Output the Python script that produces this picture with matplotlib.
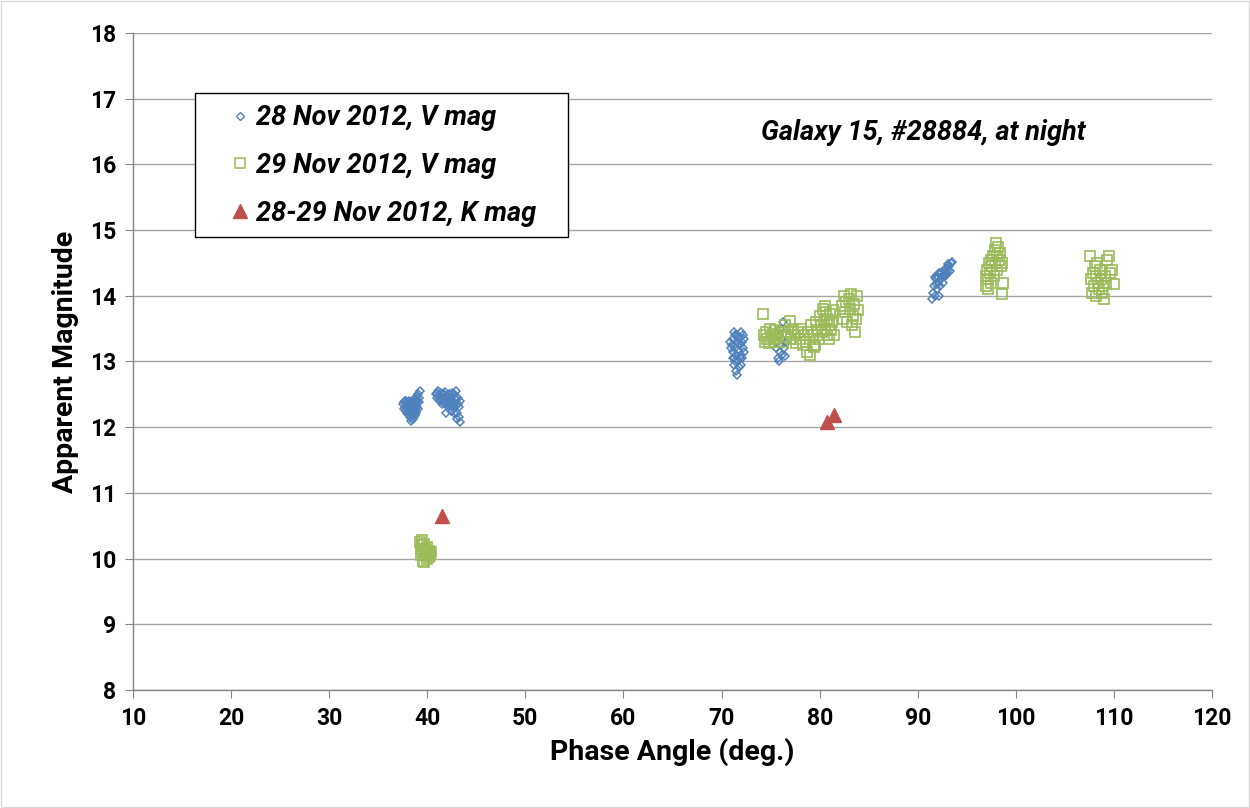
import matplotlib
matplotlib.use("Agg")
import matplotlib.pyplot as plt
from matplotlib.lines import Line2D
from matplotlib.patches import Rectangle

# ---- data ----
nov28_v_phase = [
    37.6, 37.7, 37.8, 37.9, 38.0, 38.0, 38.1, 38.2, 38.2, 38.3, 38.3, 38.4, 38.5, 38.5,
    38.6, 38.7, 38.7, 38.8, 38.9, 38.9, 39.0, 39.1, 39.2, 39.3, 39.1, 38.4, 37.8, 38.6,
    37.5, 37.6, 37.7, 37.9, 38.1, 38.3, 38.5, 38.8, 39.0, 39.2, 38.9, 38.1, 37.9, 38.6,
    39.0, 38.4,
    40.9, 41.0, 41.1, 41.2, 41.3, 41.4, 41.5, 41.6, 41.7, 41.8, 41.9, 42.0, 42.1, 42.2,
    42.3, 42.4, 42.5, 42.6, 42.7, 42.8, 42.9, 43.0, 43.1, 43.2, 43.3, 43.3, 42.5, 41.9,
    42.9, 43.0,
    41.0, 41.2, 41.4, 41.6, 41.8, 42.0, 42.2, 42.4, 42.6, 42.8, 43.1, 41.5, 42.2, 42.7,
    43.2, 42.4,
    71.1, 71.2, 71.2, 71.3, 71.3, 71.4, 71.4, 71.5, 71.5, 71.6, 71.7, 71.7, 71.8, 71.8,
    71.9, 72.0, 72.0, 72.1, 72.1, 72.2, 72.3, 71.6, 72.0, 71.3,
    70.9, 71.0, 71.4, 71.6, 71.9, 72.2, 72.3, 71.8, 71.2,
    75.6, 75.7, 75.8, 75.9, 76.0, 76.0, 76.1, 76.2, 76.2, 76.3, 76.4, 76.5, 76.6, 75.9,
    91.5, 91.6, 91.7, 91.8, 91.9, 92.0, 92.0, 92.1, 92.2, 92.3, 92.4, 92.5, 92.6, 92.7,
    92.8, 92.9, 93.0, 93.1, 93.2, 93.3, 93.4, 93.5, 92.2, 91.8,
    92.1, 92.4, 92.6, 92.9, 93.1, 92.3, 91.9, 92.7,
]
nov28_v_mag = [
    12.38, 12.30, 12.25, 12.35, 12.28, 12.20, 12.32, 12.15, 12.25, 12.10, 12.30, 12.20, 12.13, 12.35,
    12.25, 12.30, 12.18, 12.40, 12.33, 12.45, 12.38, 12.50, 12.45, 12.55, 12.27, 12.40, 12.40, 12.15,
    12.35, 12.28, 12.40, 12.22, 12.40, 12.38, 12.22, 12.22, 12.30, 12.38, 12.25, 12.18, 12.30, 12.42,
    12.48, 12.12,
    12.50, 12.45, 12.55, 12.48, 12.40, 12.52, 12.45, 12.38, 12.50, 12.42, 12.35, 12.47, 12.30, 12.40,
    12.45, 12.33, 12.25, 12.38, 12.50, 12.30, 12.42, 12.22, 12.35, 12.15, 12.08, 12.40, 12.52, 12.22,
    12.55, 12.12,
    12.52, 12.42, 12.45, 12.50, 12.53, 12.40, 12.50, 12.42, 12.30, 12.45, 12.45, 12.35, 12.33, 12.22,
    12.30, 12.25,
    13.25, 13.15, 13.35, 13.05, 12.95, 13.40, 13.20, 12.85, 13.10, 13.30, 13.00, 13.18, 13.38, 12.92,
    13.25, 13.10, 13.45, 13.05, 13.30, 13.20, 13.35, 12.80, 12.95, 13.45,
    13.30, 13.20, 13.00, 13.40, 13.05, 13.40, 13.15, 13.28, 13.05,
    13.20, 13.30, 13.05, 13.40, 13.15, 13.50, 13.25, 13.35, 13.10, 13.60, 13.20, 13.08, 13.30, 13.00,
    13.95, 14.05, 14.15, 14.00, 14.25, 14.10, 14.30, 14.20, 14.00, 14.35, 14.25, 14.30, 14.20, 14.38,
    14.30, 14.42, 14.35, 14.40, 14.45, 14.38, 14.50, 14.52, 14.35, 14.28,
    14.28, 14.35, 14.30, 14.32, 14.48, 14.15, 14.18, 14.30,
]

nov29_v_phase = [
    39.3, 39.4, 39.4, 39.5, 39.5, 39.6, 39.6, 39.7, 39.8, 39.8, 39.9, 40.0, 40.0, 40.1,
    40.2, 40.2, 40.3, 39.7, 40.4,
    74.2, 74.3, 74.4, 74.5, 74.6, 74.8, 74.9, 75.0, 75.2, 75.3, 75.5, 75.6, 75.8,
    76.1, 76.3, 76.5, 76.6, 76.8, 77.0, 77.1, 77.3, 77.5, 77.6, 77.8, 78.0,
    78.1, 78.3, 78.4, 78.6, 78.7, 78.8, 79.0, 79.1, 79.3, 79.4, 79.6, 79.7, 79.9,
    80.0, 80.1, 80.2, 80.3, 80.4, 80.5, 80.6, 80.7, 80.8, 81.0, 81.1, 81.2, 81.3, 81.4, 81.5,
    82.3, 82.4, 82.5, 82.6, 82.7, 82.8, 83.0, 83.1, 83.2, 83.3, 83.4, 83.5, 83.6, 83.7, 83.8, 83.9,
    79.0, 79.5, 80.5, 81.0,
    97.0, 97.0, 97.1, 97.2, 97.2, 97.3, 97.4, 97.5, 97.5, 97.6, 97.7, 97.8, 97.9, 97.9,
    98.0, 98.1, 98.1, 98.2, 98.3, 98.4, 98.5, 98.6, 98.6, 98.7,
    107.6, 107.7, 107.8, 107.9, 108.0, 108.1, 108.2, 108.3, 108.4, 108.5, 108.6, 108.7,
    108.8, 108.9, 109.0, 109.1, 109.2, 109.3, 109.5, 109.6, 109.8, 110.0, 108.2,
]
nov29_v_mag = [
    10.25, 10.15, 10.05, 10.28, 10.20, 10.10, 9.97, 10.22, 10.15, 10.05, 10.12, 10.18, 10.00, 10.08,
    10.12, 10.02, 10.06, 9.95, 10.10,
    13.72, 13.40, 13.30, 13.45, 13.35, 13.28, 13.50, 13.38, 13.42, 13.30, 13.48, 13.35, 13.40,
    13.45, 13.30, 13.55, 13.38, 13.45, 13.62, 13.35, 13.50, 13.40, 13.28, 13.45, 13.35,
    13.50, 13.25, 13.40, 13.30, 13.15, 13.45, 13.35, 13.55, 13.40, 13.22, 13.60, 13.48, 13.35,
    13.70, 13.55, 13.45, 13.80, 13.62, 13.50, 13.75, 13.40, 13.65, 13.55, 13.72, 13.48, 13.60, 13.78, 13.40,
    13.85, 13.65, 14.00, 13.75, 13.90, 13.60, 13.95, 13.80, 14.02, 13.55, 13.70, 13.88, 13.45, 13.65, 14.00, 13.78,
    13.10, 13.25, 13.85, 13.35,
    14.30, 14.15, 14.40, 14.10, 14.25, 14.50, 14.35, 14.20, 14.55, 14.45, 14.60, 14.30, 14.70, 14.50,
    14.80, 14.40, 14.60, 14.75, 14.55, 14.65, 14.45, 14.50, 14.02, 14.20,
    14.60, 14.25, 14.05, 14.35, 14.15, 14.45, 14.30, 14.50, 14.20, 14.10, 14.40, 14.25,
    14.05, 14.15, 13.95, 14.30, 14.20, 14.55, 14.60, 14.35, 14.40, 14.18, 14.00,
]

k_phase = [41.5, 80.7, 81.5]
k_mag = [10.65, 12.08, 12.18]

series_labels = ["28 Nov 2012, V mag", "29 Nov 2012, V mag", "28-29 Nov 2012, K mag"]
x_ticks = [10, 20, 30, 40, 50, 60, 70, 80, 90, 100, 110, 120]
y_ticks = [8, 9, 10, 11, 12, 13, 14, 15, 16, 17, 18]

# ---- style ----
plt.rcParams['font.family'] = ['Roboto', 'DejaVu Sans']
BLUE = '#4F81BD'
GREEN = '#9BBB59'
RED = '#C0504D'
GRID = '#A6A6A6'
W, H = 1250, 808

fig = plt.figure(figsize=(12.5, 8.08), dpi=100)
ax = fig.add_axes([133/W, 1-690/H, (1212-133)/W, (690-33)/H])

ax.plot(nov28_v_phase, nov28_v_mag, linestyle='none', marker='D', markersize=4.5,
        markerfacecolor='none', markeredgecolor=BLUE, markeredgewidth=1.1, zorder=3)
ax.plot(nov29_v_phase, nov29_v_mag, linestyle='none', marker='s', markersize=6.5,
        markerfacecolor='none', markeredgecolor=GREEN, markeredgewidth=1.2, zorder=3)
ax.plot(k_phase, k_mag, linestyle='none', marker='^', markersize=10,
        markerfacecolor=RED, markeredgecolor=RED, zorder=4)

ax.set_xlim(10, 120)
ax.set_ylim(8, 18)
ax.set_xticks(x_ticks)
ax.set_yticks(y_ticks)
ax.set_xticklabels([str(t) for t in x_ticks], fontsize=16.5, fontweight='bold')
ax.set_yticklabels([str(t) for t in y_ticks], fontsize=16.5, fontweight='bold')
ax.yaxis.grid(True, color=GRID, linewidth=1.0)
ax.set_axisbelow(True)
for s in ['top', 'right']:
    ax.spines[s].set_visible(False)
for s in ['left', 'bottom']:
    ax.spines[s].set_color('#868686')
    ax.spines[s].set_linewidth(1.0)
ax.tick_params(axis='both', direction='out', length=6, color='#868686', pad=6)

ax.set_xlabel("Phase Angle (deg.)", fontsize=20.5, fontweight='bold', labelpad=6)
ax.set_ylabel("Apparent Magnitude", fontsize=20.5, fontweight='bold', labelpad=8)

ax.text((923-133)/1079, 1-(132-33)/657, "Galaxy 15, #28884, at night",
        transform=ax.transAxes, fontsize=19.5, fontweight='bold', style='italic',
        ha='center', va='center')

handles = [
    Line2D([], [], linestyle='none', marker='D', markersize=4.2, markerfacecolor='none',
           markeredgecolor=BLUE, markeredgewidth=1.0),
    Line2D([], [], linestyle='none', marker='s', markersize=6.5, markerfacecolor='none',
           markeredgecolor=GREEN, markeredgewidth=1.1),
    Line2D([], [], linestyle='none', marker='^', markersize=10, markerfacecolor=RED,
           markeredgecolor=RED),
]
# legend frame (Excel style box)
frame = Rectangle((195/W, 1-237/H), (568-195)/W, (237-93)/H,
                  transform=fig.transFigure, fill=True, facecolor='white',
                  edgecolor='black', linewidth=1.0, zorder=5, clip_on=False)
ax.add_artist(frame)
leg = ax.legend(handles, series_labels, loc='upper left',
                bbox_to_anchor=(229/W, 1-104/H), bbox_transform=fig.transFigure,
                prop={'size': 19.5, 'weight': 'bold', 'style': 'italic'},
                frameon=False, handletextpad=0.2, labelspacing=0.77, borderpad=0,
                handlelength=0.8, borderaxespad=0)
leg.set_zorder(6)

fig.patches.append(Rectangle((0.001, 0.001), 0.998, 0.998, transform=fig.transFigure,
                             fill=False, edgecolor='#D9D9D9', linewidth=1.0))

fig.savefig("out.png", dpi=100)
